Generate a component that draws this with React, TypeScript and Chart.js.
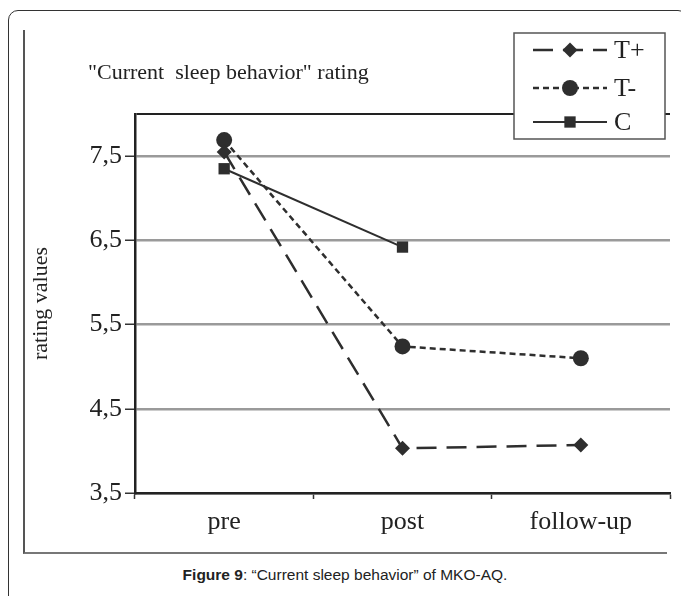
import React, { useEffect, useRef } from "react";
import { Chart, registerables } from "chart.js";

Chart.register(...registerables);

const categories = ["pre", "post", "follow-up"];
const seriesNames = ["T+", "T-", "C"];
const tPlus = [7.55, 4.03, 4.07];
const tMinus = [7.69, 5.24, 5.1];
const cGroup = [7.35, 6.42, null];
const yTicks = [3.5, 4.5, 5.5, 6.5, 7.5];

const SERIF = '"Liberation Serif", "Times New Roman", serif';
const INK = "#2e2e2e";

const legendPlugin = {
  id: "boxLegend",
  afterDraw(chart: any) {
    const ctx = chart.ctx;
    const bx = 490, by = 2, bw = 151, bh = 106;
    ctx.save();
    ctx.fillStyle = "#fff";
    ctx.fillRect(bx, by, bw, bh);
    ctx.strokeStyle = "#555";
    ctx.lineWidth = 1.5;
    ctx.strokeRect(bx, by, bw, bh);
    const rows = [19, 57, 91];
    chart.data.datasets.forEach((ds: any, i: number) => {
      const y = rows[i];
      ctx.strokeStyle = ds.borderColor;
      ctx.lineWidth = ds.borderWidth;
      ctx.setLineDash(ds.borderDash || []);
      ctx.beginPath();
      ctx.moveTo(509, y);
      ctx.lineTo(583, y);
      ctx.stroke();
      ctx.setLineDash([]);
      ctx.fillStyle = ds.pointBackgroundColor;
      const x = 546;
      const r = ds.pointRadius;
      ctx.beginPath();
      if (ds.pointStyle === "rectRot") {
        ctx.moveTo(x, y - r);
        ctx.lineTo(x + r, y);
        ctx.lineTo(x, y + r);
        ctx.lineTo(x - r, y);
        ctx.closePath();
      } else if (ds.pointStyle === "rect") {
        const s = r * Math.SQRT1_2;
        ctx.rect(x - s, y - s, 2 * s, 2 * s);
      } else {
        ctx.arc(x, y, r, 0, Math.PI * 2);
      }
      ctx.fill();
      ctx.fillStyle = "#222";
      ctx.font = `26px ${SERIF}`;
      ctx.textBaseline = "middle";
      ctx.textAlign = "left";
      ctx.fillText(ds.label, 590, y + 1);
    });
    ctx.restore();
  },
};

function LineChart() {
  const ref = useRef<HTMLCanvasElement>(null);
  useEffect(() => {
    if (!ref.current) return;
    const mk = (label: string, data: any[], style: string, radius: number, dash: number[], width: number) => ({
      label,
      data,
      borderColor: INK,
      backgroundColor: INK,
      pointBackgroundColor: INK,
      pointBorderColor: INK,
      pointBorderWidth: 0,
      pointStyle: style,
      pointRadius: radius,
      borderDash: dash,
      borderWidth: width,
      tension: 0,
      spanGaps: false,
    });
    const chart = new Chart(ref.current, {
      type: "line",
      data: {
        labels: categories,
        datasets: [
          mk(seriesNames[0], tPlus, "rectRot", 7.5, [20, 10], 2.5),
          mk(seriesNames[1], tMinus, "circle", 8, [6, 4], 2.5),
          mk(seriesNames[2], cGroup, "rect", 8, [], 2),
        ],
      },
      plugins: [legendPlugin],
      options: {
        responsive: false,
        animation: false,
        devicePixelRatio: 1,
        layout: { padding: { top: 83, right: 11, left: 0, bottom: 0 } },
        plugins: {
          legend: { display: false },
          title: { display: false },
          tooltip: { enabled: false },
        },
        scales: {
          x: {
            type: "category",
            offset: true,
            grid: {
              offset: true,
              drawOnChartArea: false,
              drawTicks: true,
              tickLength: 6,
              tickColor: "#333",
              tickWidth: 1.5,
            },
            border: { display: true, color: "#222", width: 2.5 },
            ticks: {
              color: "#222",
              font: { family: SERIF, size: 26 },
              padding: 8,
            },
            afterFit: (s: any) => {
              s.height = 60;
            },
          },
          y: {
            min: 3.5,
            max: 8,
            afterBuildTicks: (s: any) => {
              s.ticks = [...yTicks, 8].map((v) => ({ value: v }));
            },
            grid: {
              color: (c: any) => (c.tick && c.tick.value === 8 ? "#222" : "#9a9a9a"),
              lineWidth: (c: any) => (c.tick && c.tick.value === 8 ? 2 : 2.5),
              drawTicks: true,
              tickLength: 10,
              tickColor: (c: any) => (c.tick && c.tick.value === 8 ? "rgba(0,0,0,0)" : "#333"),
              tickWidth: 1.5,
            },
            border: { display: true, color: "#222", width: 2.5 },
            ticks: {
              color: "#222",
              font: { family: SERIF, size: 26 },
              padding: 3,
              callback: (v: any) => (Number(v) === 8 ? "" : Number(v).toFixed(1).replace(".", ",")),
            },
            title: {
              display: true,
              text: "rating values",
              color: "#222",
              font: { family: SERIF, size: 22 },
              padding: { top: 4, bottom: 0 },
            },
            afterFit: (s: any) => {
              s.width = 111;
            },
          },
        },
      },
    });
    return () => chart.destroy();
  }, []);
  return <canvas ref={ref} width={657} height={522} style={{ position: "absolute", left: 24, top: 31, width: 657, height: 522 }} />;
}

export default function App() {
  return (
    <div style={{ position: "fixed", left: 0, top: 0, width: 681, height: 596, background: "#fff", overflow: "hidden" }}>
      <div
        style={{
          position: "absolute",
          left: 8,
          top: 10,
          width: 680,
          height: 640,
          border: "1.5px solid #333",
          borderRadius: "10px 10px 0 0",
          boxSizing: "border-box",
        }}
      />
      <div
        style={{
          position: "absolute",
          left: 23,
          top: 30,
          width: 644,
          height: 524,
          borderLeft: "2px solid #555",
          borderBottom: "2px solid #777",
          boxSizing: "border-box",
        }}
      />
      <LineChart />
      <div
        style={{
          position: "absolute",
          left: 88,
          top: 58,
          fontFamily: SERIF,
          fontSize: 22,
          color: "#222",
          whiteSpace: "pre",
          lineHeight: "28px",
        }}
      >
        {'"Current  sleep behavior" rating'}
      </div>
      <div
        style={{
          position: "absolute",
          left: 0,
          width: 690,
          top: 565,
          textAlign: "center",
          fontFamily: '"Liberation Sans", Arial, sans-serif',
          fontSize: 15.5,
          color: "#222",
          lineHeight: "20px",
        }}
      >
        <b>Figure 9</b>: “Current sleep behavior” of MKO-AQ.
      </div>
    </div>
  );
}
